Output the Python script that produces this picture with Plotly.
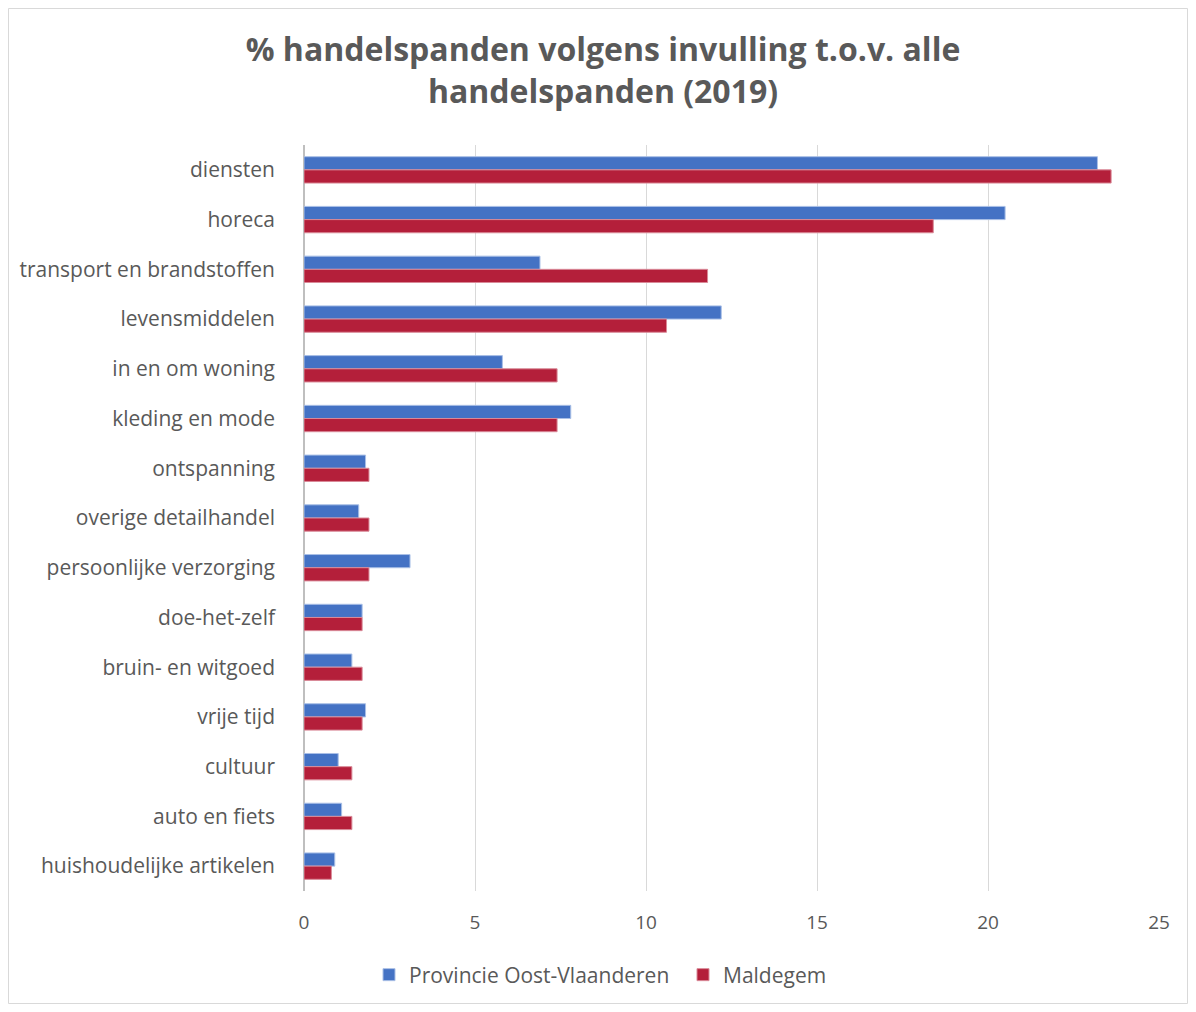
"""
Horizontal grouped bar chart: share of retail premises by use (2019)
"""

import plotly.graph_objects as go

categories = [
    "diensten", "horeca", "transport en brandstoffen", "levensmiddelen",
    "in en om woning", "kleding en mode", "ontspanning", "overige detailhandel",
    "persoonlijke verzorging", "doe-het-zelf", "bruin- en witgoed", "vrije tijd",
    "cultuur", "auto en fiets", "huishoudelijke artikelen",
]
provincie = [23.2, 20.5, 6.9, 12.2, 5.8, 7.8, 1.8, 1.6, 3.1, 1.7, 1.4, 1.8, 1.0, 1.1, 0.9]
maldegem = [23.6, 18.4, 11.8, 10.6, 7.4, 7.4, 1.9, 1.9, 1.9, 1.7, 1.7, 1.7, 1.4, 1.4, 0.8]
x_ticks = [0, 5, 10, 15, 20, 25]

FONT = "Open Sans"
GREY = "#595959"

# page body has an 8px margin, so work in figure pixels = screen - 8
OFF = 8
W, H = 1196 - 2 * OFF, 1012 - 2 * OFF
ML, MT = 304 - OFF, 145 - OFF
MR = W - (1159 - OFF)
MB = H - (891 - OFF)
PW, PH = W - ML - MR, H - MT - MB


def px_x(p):
    return (p - OFF - ML) / PW


def px_y(p):
    return (H - MB - (p - OFF)) / PH


fig = go.Figure()

fig.add_trace(go.Bar(
    y=categories, x=provincie, orientation="h",
    name="Provincie Oost-Vlaanderen",
    marker=dict(color="#4472C4", line=dict(color="#A9BFE6", width=1)),
))
fig.add_trace(go.Bar(
    y=categories, x=maldegem, orientation="h",
    name="Maldegem",
    marker=dict(color="#B41F3A", line=dict(color="#D98A98", width=1)),
))

# light border around the whole chart area
fig.add_shape(
    type="rect", xref="paper", yref="paper",
    x0=px_x(OFF + 0.5), x1=px_x(1196 - OFF - 0.5),
    y0=px_y(1012 - OFF - 0.5), y1=px_y(OFF + 0.5),
    line=dict(color="#D9D9D9", width=1), layer="below",
)

fig.update_layout(
    width=W, height=H,
    margin=dict(l=ML, r=MR, t=MT, b=MB, autoexpand=False),
    paper_bgcolor="white", plot_bgcolor="white",
    font=dict(family=FONT, color=GREY, size=21),
    title=dict(
        text="% handelspanden volgens invulling t.o.v. alle<br>handelspanden (2019)",
        x=(603 - OFF) / W, xanchor="center", xref="container",
        y=1 - (61 - OFF) / H, yanchor="middle", yref="container",
        font=dict(family=FONT, size=32, color=GREY, weight="bold"),
    ),
    barmode="group",
    bargap=0.47,
    bargroupgap=0,
    xaxis=dict(
        range=[0, 25], tickvals=x_ticks,
        showgrid=True, gridcolor="#D9D9D9", gridwidth=1,
        zeroline=True, zerolinecolor="#BFBFBF", zerolinewidth=2,
        showline=False, ticks="",
        tickfont=dict(size=19, color=GREY),
        ticklabelstandoff=18,
    ),
    yaxis=dict(
        autorange="reversed",
        showgrid=False, showline=False, ticks="",
        tickfont=dict(size=21, color=GREY),
        ticklabelstandoff=28,
    ),
    legend=dict(
        orientation="h",
        x=px_x(683), xanchor="center",
        y=px_y(975), yanchor="middle",
        font=dict(size=21, color=GREY),
        entrywidth=269, entrywidthmode="pixels",
    ),
    showlegend=True,
)

fig.write_html("out.html")
